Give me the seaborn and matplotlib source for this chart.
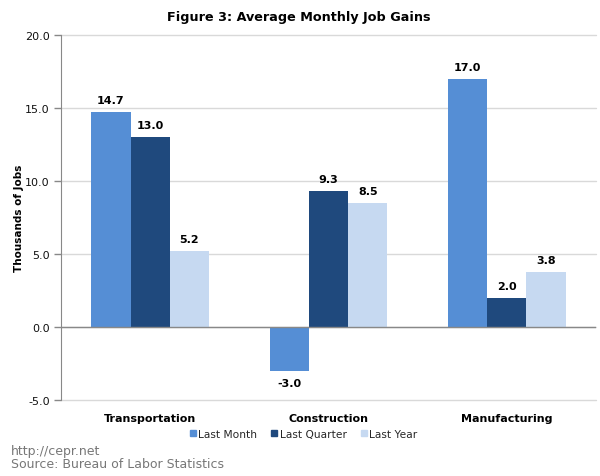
import matplotlib
matplotlib.use("Agg")
import matplotlib.pyplot as plt
import seaborn as sns
import pandas as pd
from matplotlib.lines import Line2D

categories = ["Transportation", "Construction", "Manufacturing"]
series = ["Last Month", "Last Quarter", "Last Year"]
last_month = [14.7, -3.0, 17.0]
last_quarter = [13.0, 9.3, 2.0]
last_year = [5.2, 8.5, 3.8]
yticks = [-5.0, 0.0, 5.0, 10.0, 15.0, 20.0]
colors = ["#558ED5", "#1F497D", "#C6D9F1"]

rows = []
for s, vals in zip(series, [last_month, last_quarter, last_year]):
    for c, v in zip(categories, vals):
        rows.append({"Category": c, "Series": s, "Value": v})
df = pd.DataFrame(rows)

sns.set_style("white")
plt.rcParams["font.family"] = ["DejaVu Sans"]

fig = plt.figure(figsize=(6.0, 4.77), dpi=100)
ax = fig.add_axes([61/600, 1-401/477, 535/600, 365/477])

sns.barplot(data=df, x="Category", y="Value", hue="Series", order=categories,
            hue_order=series, palette=colors, width=0.66, saturation=1,
            ax=ax, legend=False, errorbar=None, linewidth=0, edgecolor="none")

ax.set_ylim(-5, 20)
ax.set_xlim(-0.5, 2.5)
ax.set_yticks(yticks)
ax.set_yticklabels([f"{t:.1f}" for t in yticks], fontsize=8, color="#111111")
ax.yaxis.grid(True, color="#d9d9d9", linewidth=1)
for gl in ax.get_ygridlines():
    gl.set_clip_on(False)
ax.set_axisbelow(True)
ax.tick_params(axis="y", left=True, length=5, width=1, color="#888888", pad=3)
ax.tick_params(axis="x", bottom=False, pad=6)
for lab in ax.get_xticklabels():
    lab.set_fontweight("bold")
    lab.set_fontsize(8)
    lab.set_color("#000000")
ax.set_xlabel("")
ax.set_ylabel("Thousands of Jobs", fontsize=7.5, fontweight="bold", labelpad=1, color="#000000")
for side in ["top", "right", "bottom"]:
    ax.spines[side].set_visible(False)
ax.spines["left"].set_color("#888888")
ax.axhline(0, color="#888888", linewidth=1, zorder=3)

for cont in ax.containers:
    for bar in cont:
        h = bar.get_height()
        x = bar.get_x() + bar.get_width() / 2
        if h >= 0:
            ax.annotate(f"{h:.1f}", (x, h), xytext=(0, 5), textcoords="offset points",
                        ha="center", va="bottom", fontsize=8, fontweight="bold", color="#000000")
        else:
            ax.annotate(f"{h:.1f}", (x, h), xytext=(0, -5), textcoords="offset points",
                        ha="center", va="top", fontsize=8, fontweight="bold", color="#000000")

fig.text(299/600, 1-18/477, "Figure 3: Average Monthly Job Gains", ha="center", va="center",
         fontsize=9.2, fontweight="bold", color="#000000")

handles = [Line2D([], [], marker="s", linestyle="", markersize=5, color=c) for c in colors]
fig.legend(handles, series, loc="center", bbox_to_anchor=(303/600, 1-435/477), ncol=3,
           frameon=False, fontsize=7.7, handletextpad=0.1, columnspacing=1.2,
           handlelength=0.8)

fig.text(11/600, 1-452/477, "http://cepr.net", fontsize=9, color="#777777", va="center")
fig.text(11/600, 1-465/477, "Source: Bureau of Labor Statistics", fontsize=9, color="#777777", va="center")

fig.savefig("out.png", dpi=100)
